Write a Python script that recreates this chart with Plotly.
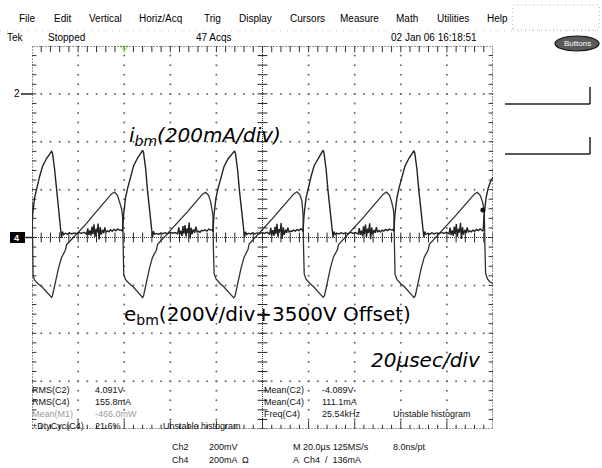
import plotly.graph_objects as go

# ------------------------------------------------------------------ data
# Ch4: base-drive current i_bm (mA), time in microseconds (20 us/div)
ch4_current = [
    (0.0, 35), (0.3, 95), (1.1, 165), (2.0, 205), (3.3, 255), (4.6, 298), (6.3, 330), (8.5, 360),
    (8.9, 352), (9.8, 285), (10.6, 200), (11.5, 110), (12.4, 22), (12.8, -2), (13.2, 25), (13.7, 12),
    (14.5, 18), (15.4, 14), (16.3, 20), (17.2, 15), (18.3, 19), (19.3, 16), (20.4, 21), (21.5, 17),
    (22.6, 22), (23.7, 14), (24.2, 38), (24.6, 10), (25.1, 30), (25.6, 8), (26.0, 46), (26.4, 14),
    (26.9, 55), (27.3, 2), (27.8, 36), (28.2, 20), (28.7, 58), (29.1, -8), (29.6, 44), (30.0, 12),
    (30.6, 32), (31.1, 18), (31.6, 42), (32.1, 22), (32.8, 28), (33.4, 24), (34.1, 32), (34.8, 26),
    (35.6, 34), (36.4, 28), (37.2, 36), (38.0, 30), (38.8, 32),
    (39.3, 25), (39.7, 92), (40.6, 168), (41.5, 206), (42.8, 258), (44.1, 300), (45.8, 332), (48.0, 364),
    (48.4, 354), (49.3, 288), (50.1, 198), (51.0, 108), (51.9, 20), (52.3, 0), (52.7, 26), (53.2, 14),
    (54.0, 17), (54.9, 13), (55.8, 19), (56.7, 16), (57.8, 20), (58.8, 15), (59.9, 22), (61.0, 18),
    (62.1, 21), (63.2, 15), (63.7, 42), (64.1, 12), (64.6, 28), (65.1, 6), (65.5, 48), (65.9, 16),
    (66.4, 52), (66.8, 4), (67.3, 38), (67.7, 18), (68.2, 62), (68.6, -5), (69.1, 40), (69.5, 14),
    (70.1, 34), (70.6, 20), (71.1, 45), (71.6, 24), (72.3, 26), (72.9, 22), (73.6, 30), (74.3, 28),
    (75.1, 32), (75.9, 27), (76.7, 35), (77.5, 31), (78.2, 33),
    (78.5, 24), (78.9, 90), (79.8, 164), (80.7, 204), (82.0, 254), (83.3, 296), (85.0, 328), (87.9, 362),
    (88.3, 350), (89.2, 282), (90.0, 196), (90.9, 106), (91.8, 22), (92.2, 2), (92.6, 24), (93.1, 13),
    (93.9, 18), (94.8, 14), (95.7, 20), (96.6, 15), (97.7, 19), (98.7, 16), (99.8, 21), (100.9, 17),
    (102.0, 22), (103.1, 14), (103.6, 40), (104.0, 9), (104.5, 31), (105.0, 7), (105.4, 45), (105.8, 15),
    (106.3, 57), (106.7, 3), (107.2, 35), (107.6, 21), (108.1, 60), (108.5, -6), (109.0, 43), (109.4, 11),
    (110.0, 33), (110.5, 19), (111.0, 41), (111.5, 23), (112.2, 27), (112.8, 25), (113.5, 31), (114.2, 27),
    (115.0, 33), (115.8, 29), (116.6, 36), (117.3, 32),
    (117.6, 24), (118.0, 92), (118.9, 166), (119.8, 207), (121.1, 256), (122.4, 300), (124.1, 331), (126.3, 365),
    (126.7, 352), (127.6, 284), (128.4, 198), (129.3, 108), (130.2, 21), (130.6, 0), (131.0, 25), (131.5, 13),
    (132.3, 18), (133.2, 15), (134.1, 20), (135.0, 16), (136.1, 19), (137.1, 15), (138.2, 22), (139.3, 17),
    (140.4, 21), (141.5, 14), (142.0, 39), (142.4, 11), (142.9, 29), (143.4, 6), (143.8, 47), (144.2, 14),
    (144.7, 54), (145.1, 2), (145.6, 37), (146.0, 19), (146.5, 59), (146.9, -7), (147.4, 42), (147.8, 13),
    (148.4, 31), (148.9, 19), (149.4, 43), (149.9, 22), (150.6, 29), (151.2, 23), (151.9, 31), (152.6, 27),
    (153.4, 34), (154.2, 29), (155.0, 35), (155.8, 31), (156.6, 33),
    (157.0, 25), (157.4, 91), (158.3, 165), (159.2, 205), (160.5, 255), (161.8, 298), (163.5, 330), (165.7, 363),
    (166.1, 351), (167.0, 285), (167.8, 199), (168.7, 109), (169.6, 21), (170.0, 1), (170.4, 25), (170.9, 13),
    (171.7, 17), (172.6, 14), (173.5, 20), (174.4, 15), (175.5, 19), (176.5, 16), (177.6, 21), (178.7, 17),
    (179.8, 22), (180.9, 15), (181.4, 41), (181.8, 10), (182.3, 30), (182.8, 7), (183.2, 46), (183.6, 15),
    (184.1, 56), (184.5, 3), (185.0, 36), (185.4, 20), (185.9, 61), (186.3, -6), (186.8, 43), (187.2, 12),
    (187.8, 32), (188.3, 18), (188.8, 42), (189.3, 23), (190.0, 28), (190.6, 24), (191.3, 31), (192.0, 26),
    (192.8, 34), (193.6, 29), (194.4, 36), (195.2, 31),
    (195.7, 26), (196.1, 92), (197.0, 166), (197.9, 206), (199.0, 235), (200.0, 252),
]

# Ch2: collector-emitter voltage e_bm (V, relative to the 3500 V offset)
ch2_voltage = [
    (0.0, 150), (0.2, -20), (0.5, -160), (1.1, -178), (2.0, -188), (3.0, -196), (4.3, -206), (5.8, -222),
    (7.2, -238), (8.5, -250), (8.9, -242), (9.3, -222), (10.2, -180), (11.5, -128), (12.8, -84), (14.5, -52),
    (15.0, -30), (17.2, -8), (19.3, 12), (21.5, 37), (23.7, 59), (25.8, 84), (28.0, 110), (30.2, 132),
    (32.3, 158), (34.5, 182), (35.8, 190), (37.1, 175), (38.0, 148), (38.9, 118), (39.3, 88),
    (39.5, -40), (39.8, -155), (40.6, -176), (41.5, -186), (42.5, -195), (43.8, -205), (45.3, -221), (46.7, -237),
    (48.0, -251), (48.4, -243), (48.8, -224), (49.7, -182), (51.0, -127), (52.3, -82), (54.0, -52), (54.5, -28),
    (56.6, -6), (58.8, 13), (61.0, 36), (63.1, 60), (65.3, 85), (67.5, 108), (69.7, 133), (71.8, 157),
    (74.0, 181), (75.3, 189), (76.6, 176), (77.5, 150), (78.3, 115), (78.5, 92),
    (78.7, -45), (79.0, -150), (79.8, -172), (80.7, -184), (81.7, -194), (83.0, -204), (84.5, -220), (85.9, -236),
    (87.5, -252), (88.1, -244), (88.5, -226), (89.4, -183), (90.7, -128), (92.0, -83), (93.7, -50), (94.2, -27),
    (96.3, -5), (98.5, 14), (100.7, 38), (102.8, 61), (105.0, 86), (107.2, 111), (109.4, 134), (111.5, 160),
    (113.7, 183), (115.0, 191), (116.3, 177), (117.1, 152), (117.5, 118), (117.6, 95),
    (117.8, -42), (118.1, -152), (118.9, -174), (119.8, -185), (120.8, -194), (122.1, -205), (123.6, -221), (125.0, -237),
    (126.3, -250), (126.9, -243), (127.3, -223), (128.2, -181), (129.5, -126), (130.8, -81), (132.5, -51), (133.0, -29),
    (135.1, -7), (137.3, 12), (139.5, 37), (141.6, 59), (143.8, 84), (146.0, 109), (148.2, 133), (150.3, 158),
    (152.5, 182), (153.8, 190), (155.1, 176), (156.0, 150), (156.8, 116), (157.0, 92),
    (157.2, -44), (157.5, -153), (158.3, -175), (159.2, -186), (160.2, -195), (161.5, -205), (163.0, -222), (164.4, -238),
    (165.7, -251), (166.3, -243), (166.7, -224), (167.6, -182), (168.9, -127), (170.2, -82), (171.9, -51), (172.4, -28),
    (174.5, -6), (176.7, 13), (178.9, 37), (181.0, 60), (183.2, 85), (185.4, 109), (187.6, 133), (189.7, 158),
    (191.9, 181), (193.2, 189), (194.5, 175), (195.4, 150), (196.2, 118),
    (196.5, -40), (196.8, -150), (197.6, -173), (198.6, -185), (200.0, -192),
]
trace_marker_point = (195.6, 115)

time_range_us = [0, 200]
amplitude_range = [-800, 800]   # 200 units per division, 8 divisions

menu_labels = ["File", "Edit", "Vertical", "Horiz/Acq", "Trig", "Display", "Cursors",
               "Measure", "Math", "Utilities", "Help"]
status_labels = ["Tek", "Stopped", "47 Acqs", "02 Jan 06 16:18:51"]

meas_left_names = ["RMS(C2)", "RMS(C4)", "Mean(M1)", "+DtyCyc(C4)"]
meas_left_values = ["4.091V", "155.8mA", "-466.0mW", "21.6%"]
meas_right_names = ["Mean(C2)", "Mean(C4)", "Freq(C4)"]
meas_right_values = ["-4.089V", "111.1mA", "25.54kHz"]
histogram_note = "Unstable histogram"
channel_rows = [("Ch2", "200mV", "M 20.0µs 125MS/s", "8.0ns/pt"),
                ("Ch4", "200mA  Ω", "A  Ch4  /  136mA", "")]

label_current = "<i>i<sub>bm</sub>(200mA/div)</i>"
label_voltage = "e<sub>bm</sub>(200V/div+3500V Offset)"
label_time = "<i>20µsec/div</i>"

# ------------------------------------------------------------------ layout helpers
W, H = 602, 468
PL, PR, PT, PB = 32, 493, 46, 429
NARROW = "Liberation Sans Narrow, Arial Narrow, Liberation Sans, Arial"
SANS = "Liberation Sans, Arial"
BIG = "DejaVu Sans, Verdana"


def px(x):
    return (x - PL) / (PR - PL)


def py(y):
    return (PB - y) / (PB - PT)


fig = go.Figure()


def text(s, x, y, size=9, anchor="left", color="#111", family=NARROW):
    fig.add_annotation(x=px(x), y=py(y), xref="paper", yref="paper", text=s,
                       showarrow=False, xanchor=anchor, yanchor="middle",
                       font=dict(size=size, color=color, family=family), borderpad=0)


def pline(x0, y0, x1, y1, color="#222", width=1.0, dash="solid"):
    fig.add_shape(type="line", xref="paper", yref="paper", x0=px(x0), y0=py(y0),
                  x1=px(x1), y1=py(y1), line=dict(color=color, width=width, dash=dash))


# ------------------------------------------------------------------ graticule
X0, X1 = time_range_us
Y0, Y1 = amplitude_range
XD, YD = 20, 200

gx, gy = [], []
for k in range(1, 10):
    if k == 5:
        continue
    for j in range(41):
        gx.append(X0 + XD * k)
        gy.append(Y0 + 40 * j)
for k in (-3, -2, -1, 1, 2, 3):
    for j in range(51):
        gx.append(X0 + 4 * j)
        gy.append(YD * k)
fig.add_trace(go.Scatter(x=gx, y=gy, mode="markers", hoverinfo="skip",
                         marker=dict(size=2, color="#6a6a6a"), showlegend=False))

# centre cross hair
fig.add_shape(type="line", x0=X0, x1=X1, y0=0, y1=0, line=dict(color="#333", width=1, dash="1px,1px"))
fig.add_shape(type="line", x0=100, x1=100, y0=Y0, y1=Y1, line=dict(color="#333", width=1, dash="1px,1px"))
fig.add_trace(go.Scatter(x=[4 * j for j in range(51)], y=[0] * 51, mode="markers", hoverinfo="skip",
                         marker=dict(symbol="line-ns", size=7, line=dict(width=1, color="#222")),
                         showlegend=False))
fig.add_trace(go.Scatter(x=[100] * 41, y=[Y0 + 40 * j for j in range(41)], mode="markers",
                         hoverinfo="skip",
                         marker=dict(symbol="line-ew", size=7, line=dict(width=1, color="#222")),
                         showlegend=False))

# border with inward ticks
fig.add_shape(type="rect", x0=X0, x1=X1, y0=Y0, y1=Y1, line=dict(color="#333", width=1, dash="2px,1px"))
bx, by = [], []
for j in range(1, 50):
    bx += [4 * j, 4 * j, None]
    by += [Y1, Y1 - 26, None]
    bx += [4 * j, 4 * j, None]
    by += [Y0, Y0 + (34 if j % 5 == 0 else 18), None]
for j in range(1, 40):
    bx += [X0, X0 + 1.9, None]
    by += [Y0 + 40 * j, Y0 + 40 * j, None]
    bx += [X1, X1 - 1.9, None]
    by += [Y0 + 40 * j, Y0 + 40 * j, None]
fig.add_trace(go.Scatter(x=bx, y=by, mode="lines", hoverinfo="skip",
                         line=dict(color="#333", width=1), showlegend=False))

# ------------------------------------------------------------------ waveforms
fig.add_trace(go.Scatter(x=[p[0] for p in ch2_voltage], y=[p[1] for p in ch2_voltage],
                         mode="lines", line=dict(color="#303030", width=1.3), showlegend=False))
fig.add_trace(go.Scatter(x=[p[0] for p in ch4_current], y=[p[1] for p in ch4_current],
                         mode="lines", line=dict(color="#222222", width=1.4), showlegend=False))
fig.add_trace(go.Scatter(x=[trace_marker_point[0]], y=[trace_marker_point[1]], mode="markers",
                         marker=dict(size=5, color="#111"), showlegend=False))
# trigger position marker on the top ruler
fig.add_trace(go.Scatter(x=[40], y=[Y1 - 8], mode="markers", cliponaxis=False,
                         marker=dict(symbol="triangle-down-open", size=7,
                                     line=dict(width=1.2, color="#222")), showlegend=False))

# ------------------------------------------------------------------ header
menu_x = [18, 53, 88, 138, 203, 238, 289, 339, 395, 436, 486]
for lab, x in zip(menu_labels, menu_x):
    text(lab, x, 18, size=10, family=SANS, color="#000")
status_x = [6, 47, 195, 390]
for lab, x in zip(status_labels, status_x):
    text(lab, x, 37, size=10, color="#000")
pline(0, 31, 600, 31, color="#c8c8c8", width=1, dash="1px,6px")
fig.add_shape(type="rect", xref="paper", yref="paper", x0=px(513), x1=px(599), y0=py(30), y1=py(5),
              line=dict(color="#aaa", width=1, dash="1px,3px"))

# Buttons oval
fig.add_shape(type="circle", xref="paper", yref="paper", x0=px(555), x1=px(599), y0=py(51), y1=py(36),
              line=dict(color="#111", width=1.2), fillcolor="#5a5a5a")
text("Buttons", 577, 43.5, size=8, anchor="center", color="#fff", family=NARROW)

# right side L-shaped connectors
pline(505, 104, 590, 104, width=1.5)
pline(590, 104, 590, 87, width=1.5)
pline(505, 154, 590, 154, width=1.5)
pline(590, 154, 590, 137, width=1.5)

# channel ground markers
fig.add_shape(type="rect", xref="paper", yref="paper", x0=px(10), x1=px(25), y0=py(243), y1=py(232),
              line=dict(width=0), fillcolor="#000")
text("<b>4</b>", 16, 237.5, size=9, anchor="center", color="#fff", family=SANS)
pline(25, 237.5, 32, 237.5, width=1.5)
text("2", 17, 94, size=10, anchor="center", color="#000", family=SANS)
pline(21, 94, 32, 94, width=1.5)

# ------------------------------------------------------------------ big labels
text(label_current, 128, 136, size=20, family=BIG, color="#000")
text(label_voltage, 123, 315, size=20, family=BIG, color="#000")
text(label_time, 370, 360, size=20, family=BIG, color="#000")

# ------------------------------------------------------------------ measurements
rows_y = [390, 402, 414, 426]
for i, (n, v) in enumerate(zip(meas_left_names, meas_left_values)):
    c = "#999" if i == 2 else "#111"
    text(n, 31, rows_y[i], size=9, color=c)
    text(v, 94, rows_y[i], size=9, color=c)
text(histogram_note, 162, rows_y[3], size=9)
for i, (n, v) in enumerate(zip(meas_right_names, meas_right_values)):
    text(n, 263, rows_y[i], size=9)
    text(v, 321, rows_y[i], size=9)
text(histogram_note, 392, rows_y[2], size=9)

for (ch, scale, horiz, res), y in zip(channel_rows, [447, 460]):
    text(ch, 171, y, size=9)
    text(scale, 208, y, size=9)
    text(horiz, 292, y, size=9)
    if res:
        text(res, 392, y, size=9)

fig.update_layout(
    width=W, height=H, autosize=False,
    margin=dict(l=PL, r=W - PR, t=PT, b=H - PB, pad=0),
    paper_bgcolor="white", plot_bgcolor="white",
    xaxis=dict(range=time_range_us, visible=False, fixedrange=True),
    yaxis=dict(range=amplitude_range, visible=False, fixedrange=True),
    showlegend=False,
)
fig.write_html("out.html", config={"displayModeBar": False},
               post_script="document.body.style.margin='0';document.body.style.overflow='hidden';")
